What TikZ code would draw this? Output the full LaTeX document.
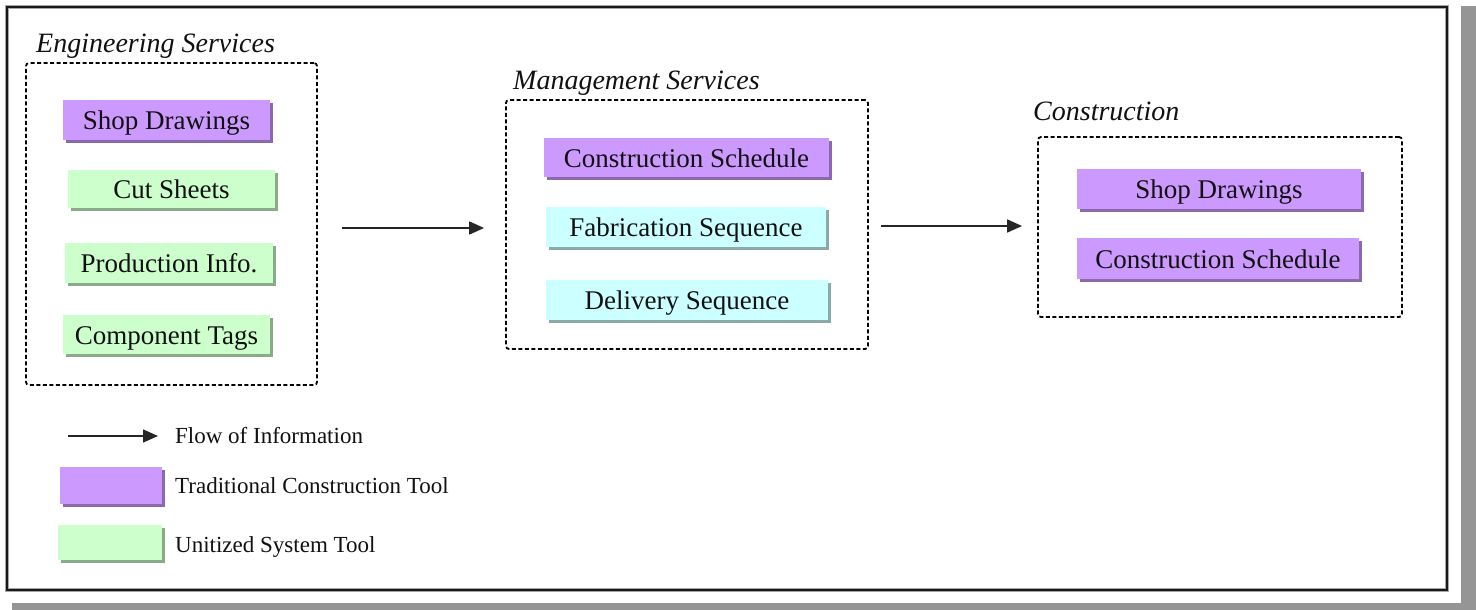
\documentclass[tikz,border=0pt]{standalone}
\usepackage{fontspec}
\setmainfont{Liberation Serif}
\usetikzlibrary{arrows.meta,shadows}
\definecolor{tradfill}{HTML}{CC99FF}
\definecolor{tradshadow}{HTML}{8A6AAA}
\definecolor{unitfill}{HTML}{CCFFCC}
\definecolor{unitshadow}{HTML}{8AAA8A}
\definecolor{seqfill}{HTML}{CCFFFF}
\definecolor{seqshadow}{HTML}{8AAAAA}
\definecolor{bandgray}{HTML}{959595}
\definecolor{inkc}{HTML}{111111}
\tikzset{
  tool/.style={inner sep=0pt, minimum height=40pt, text=inkc,
    text height=22pt, text depth=3pt,
    font=\fontsize{27}{30}\selectfont},
  trad/.style={tool, fill=tradfill,
    drop shadow={shadow xshift=3pt, shadow yshift=-3pt, fill=tradshadow, opacity=1}},
  unit/.style={tool, fill=unitfill,
    drop shadow={shadow xshift=3pt, shadow yshift=-3pt, fill=unitshadow, opacity=1}},
  seq/.style={tool, fill=seqfill,
    drop shadow={shadow xshift=3pt, shadow yshift=-3pt, fill=seqshadow, opacity=1}},
  group/.style={draw=black, line width=1.8pt, dash pattern=on 4pt off 2.5pt,
    rounded corners=3pt, inner sep=0pt},
  grouplabel/.style={inner sep=0pt, anchor=base west, text=inkc,
    font=\fontsize{28}{30}\selectfont\itshape},
  legendtext/.style={inner sep=0pt, anchor=base west, text=inkc,
    font=\fontsize{23}{26}\selectfont},
  flow/.style={draw=black!85, line width=1.6pt,
    -{Triangle[length=15pt,width=13pt]}},
}
\begin{document}
\begin{tikzpicture}[x=1pt,y=-1pt]
\useasboundingbox (0,0) rectangle (1476,610);
\fill[white] (0,0) rectangle (1476,610);
% outer frame and gray bands
\fill[bandgray] (1461,6) rectangle (1476,610);
\fill[bandgray] (12,603) rectangle (1476,610);
\draw[line width=4pt, draw=black!35] (7,7) rectangle (1447,590);
\draw[line width=2.5pt, draw=black!90] (7,7) rectangle (1447,590);

% groups
\node[group, minimum width=291pt, minimum height=322pt] (eng) at (171.5,224) {};
\node[group, minimum width=362pt, minimum height=249pt] (mgmt) at (687,224.5) {};
\node[group, minimum width=364pt, minimum height=180pt] (constr) at (1220,227) {};

\node[grouplabel] (englabel) at (36,53) {Engineering Services};
\node[grouplabel] (mgmtlabel) at (513,90) {Management Services};
\node[grouplabel] (constrlabel) at (1033,121) {Construction};

% engineering tools
\node[trad, minimum width=207pt] (esd) at (166.5,120) {Shop Drawings};
\node[unit, minimum width=207pt, minimum height=38pt] (ecut) at (171.5,189) {Cut Sheets};
\node[unit, minimum width=208pt] (eprod) at (169,263) {Production Info.};
\node[unit, minimum width=207pt, minimum height=39pt] (ecomp) at (166.5,334.5) {Component Tags};

% management tools
\node[trad, minimum width=285pt, minimum height=39pt] (mcs) at (686.5,157.5) {Construction Schedule};
\node[seq, minimum width=280pt] (mfab) at (686,227) {Fabrication Sequence};
\node[seq, minimum width=282pt] (mdel) at (687,300) {Delivery Sequence};

% construction tools
\node[trad, minimum width=284pt] (csd) at (1219,189) {Shop Drawings};
\node[trad, minimum width=282pt, minimum height=41pt] (ccs) at (1218,258.5) {Construction Schedule};

% flow arrows
\draw[flow, shorten <=24pt, shorten >=21pt] ([yshift=-4pt]eng.east) -- ([yshift=-4pt]eng.east -| mgmt.west);
\draw[flow, shorten <=12pt, shorten >=15pt] ([yshift=-1.5pt]mgmt.east) -- ([yshift=-1.5pt]mgmt.east -| constr.west);

% legend
\node[legendtext] (lflow) at (175,443) {Flow of Information};
\coordinate (lflowstart) at (68,436);
\draw[flow] (lflowstart) -- (lflowstart -| 158,0);
\node[trad, minimum width=102pt, minimum height=37pt] (ltrad) at (111,485.5) {};
\node[legendtext] (ltradtext) at (175,493) {Traditional Construction Tool};
\node[unit, minimum width=104pt, minimum height=35pt] (lunit) at (110,542.5) {};
\node[legendtext] (lunittext) at (175,552) {Unitized System Tool};
\end{tikzpicture}
\end{document}
